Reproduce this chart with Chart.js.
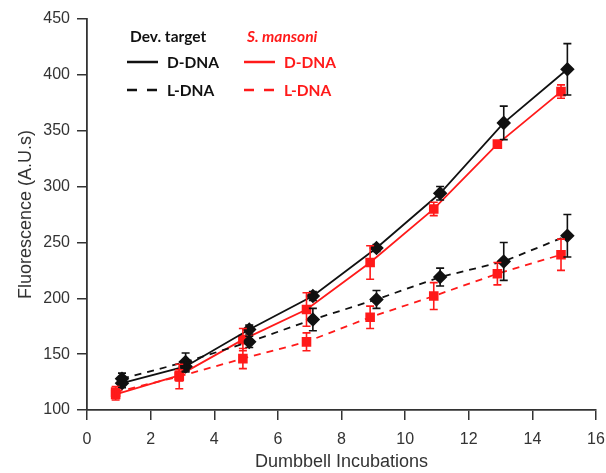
<!DOCTYPE html>
<html>
<head>
<meta charset="utf-8">
<script src="https://cdn.jsdelivr.net/npm/chart.js@4"></script>
<style>
  html, body { margin: 0; padding: 0; background: #fff; }
  #wrap { width: 606px; height: 473px; }
</style>
</head>
<body>
<div id="wrap"><canvas id="fluoChart"></canvas></div>
<script>
// x positions (incubations, offset slightly per target as in the figure)
const devX = [1.1, 3.1, 5.1, 7.1, 9.1, 11.1, 13.1, 15.1]
const smX = [0.9, 2.9, 4.9, 6.9, 8.9, 10.9, 12.9, 14.9]

// Dev. target
const devD = [124, 139, 172, 202, 245, 294, 357, 405]
const devDErr = [4, 5, 4, 4, 3, 6, 15, 23]
const devL = [128, 143, 161, 181, 199, 219, 233, 256]
const devLErr = [5, 8, 5, 10, 8, 8, 17, 19]

// S. mansoni
const smD = [114, 131, 163, 190, 232, 280, 338, 385]
const smDErr = [5, 5, 10, 15, 15, 6, 3, 6]
const smL = [116, 130, 146, 161, 183, 202, 222, 239]
const smLErr = [5, 11, 9, 8, 10, 12, 10, 14]

const yTicks = [100, 150, 200, 250, 300, 350, 400, 450]
const xTicks = [0, 2, 4, 6, 8, 10, 12, 14, 16]

const BLACK = '#111'
const RED = '#ff1a1a'

const pts = (xs, ys) => xs.map((x, i) => ({ x: x, y: ys[i] }))

// draw vertical error bars with caps, using the chart's own scales
const errorBars = {
    id: 'errorBars',
    afterDatasetsDraw(chart) {
        const ctx = chart.ctx
        const yScale = chart.scales.y
        chart.data.datasets.forEach((ds, di) => {
            if (!ds.errors) return
            const meta = chart.getDatasetMeta(di)
            ctx.save()
            ctx.strokeStyle = ds.borderColor
            ctx.lineWidth = 1.6
            meta.data.forEach((pt, i) => {
                const v = ds.data[i].y
                const e = ds.errors[i]
                const top = yScale.getPixelForValue(v + e)
                const bot = yScale.getPixelForValue(v - e)
                ctx.beginPath()
                ctx.moveTo(pt.x, top)
                ctx.lineTo(pt.x, bot)
                ctx.moveTo(pt.x - 4, top)
                ctx.lineTo(pt.x + 4, top)
                ctx.moveTo(pt.x - 4, bot)
                ctx.lineTo(pt.x + 4, bot)
                ctx.stroke()
            })
            ctx.restore()
        })
    },
}

// two-column legend like the figure
const groupLegend = {
    id: 'groupLegend',
    afterDraw(chart) {
        const ctx = chart.ctx
        ctx.save()
        ctx.textBaseline = 'middle'
        ctx.textAlign = 'left'
        const cols = [
            { x: 127, title: 'Dev. target', color: BLACK, italic: false },
            { x: 244, title: 'S. mansoni', color: RED, italic: true },
        ]
        cols.forEach((c) => {
            ctx.fillStyle = c.color
            ctx.strokeStyle = c.color
            ctx.font = (c.italic ? 'italic ' : '') + 'bold 15.5px Lato'
            ctx.fillText(c.title, c.x + 3, 37)
            ctx.font = 'bold 15.5px Lato'
            ctx.fillText('D-DNA', c.x + 40, 63)
            ctx.fillText('L-DNA', c.x + 40, 91)
            ctx.lineWidth = 2.5
            ctx.beginPath()
            ctx.moveTo(c.x, 62)
            ctx.lineTo(c.x + 31, 62)
            ctx.stroke()
            ctx.setLineDash([10, 10])
            ctx.beginPath()
            ctx.moveTo(c.x, 90)
            ctx.lineTo(c.x + 31, 90)
            ctx.stroke()
            ctx.setLineDash([])
        })
        ctx.restore()
    },
}

const ctx = document.querySelector('#fluoChart').getContext('2d')

const fluoChart = new Chart(ctx, {
    type: 'line',
    data: {
        datasets: [
            {
                label: 'Dev. target L-DNA',
                data: pts(devX, devL),
                errors: devLErr,
                borderColor: BLACK,
                backgroundColor: BLACK,
                borderWidth: 1.8,
                borderDash: [7, 6],
                pointStyle: 'rectRot',
                pointRadius: 6,
            },
            {
                label: 'S. mansoni L-DNA',
                data: pts(smX, smL),
                errors: smLErr,
                borderColor: RED,
                backgroundColor: RED,
                borderWidth: 1.8,
                borderDash: [7, 6],
                pointStyle: 'rect',
                pointRadius: 5.5,
            },
            {
                label: 'Dev. target D-DNA',
                data: pts(devX, devD),
                errors: devDErr,
                borderColor: BLACK,
                backgroundColor: BLACK,
                borderWidth: 1.8,
                pointStyle: 'rectRot',
                pointRadius: 6,
            },
            {
                label: 'S. mansoni D-DNA',
                data: pts(smX, smD),
                errors: smDErr,
                borderColor: RED,
                backgroundColor: RED,
                borderWidth: 1.8,
                pointStyle: 'rect',
                pointRadius: 5.5,
            },
        ],
    },
    options: {
        responsive: true,
        maintainAspectRatio: false,
        animation: false,
        layout: { padding: { top: 19, right: 10, left: 0, bottom: 0 } },
        plugins: {
            legend: { display: false },
            tooltip: { enabled: false },
        },
        scales: {
            x: {
                type: 'linear',
                min: 0,
                max: 16,
                afterBuildTicks: (s) => { s.ticks = xTicks.map((v) => ({ value: v })) },
                afterFit: (s) => { s.height = 63; s.paddingRight = 0; s.paddingLeft = 0 },
                grid: { drawOnChartArea: false, tickLength: 10, color: '#333', lineWidth: 1.5 },
                border: { color: '#333', width: 1.8 },
                ticks: { color: '#333', font: { family: 'Liberation Sans', size: 16 }, padding: 10, maxRotation: 0 },
                title: {
                    display: true,
                    text: 'Dumbbell Incubations',
                    color: '#333',
                    font: { family: 'Liberation Sans', size: 18 },
                    padding: { top: 0, bottom: 0 },
                },
            },
            y: {
                min: 100,
                max: 450,
                afterBuildTicks: (s) => { s.ticks = yTicks.map((v) => ({ value: v })) },
                afterFit: (s) => { s.width = 87 },
                grid: { drawOnChartArea: false, tickLength: 10, color: '#333', lineWidth: 1.5 },
                border: { color: '#333', width: 1.8 },
                ticks: { color: '#333', font: { family: 'Liberation Sans', size: 16 }, padding: 7 },
                title: {
                    display: true,
                    text: 'Fluorescence (A.U.s)',
                    color: '#333',
                    font: { family: 'Liberation Sans', size: 18 },
                    padding: { top: 15, bottom: 0 },
                },
            },
        },
    },
    plugins: [errorBars, groupLegend],
})
</script>
</body>
</html>
